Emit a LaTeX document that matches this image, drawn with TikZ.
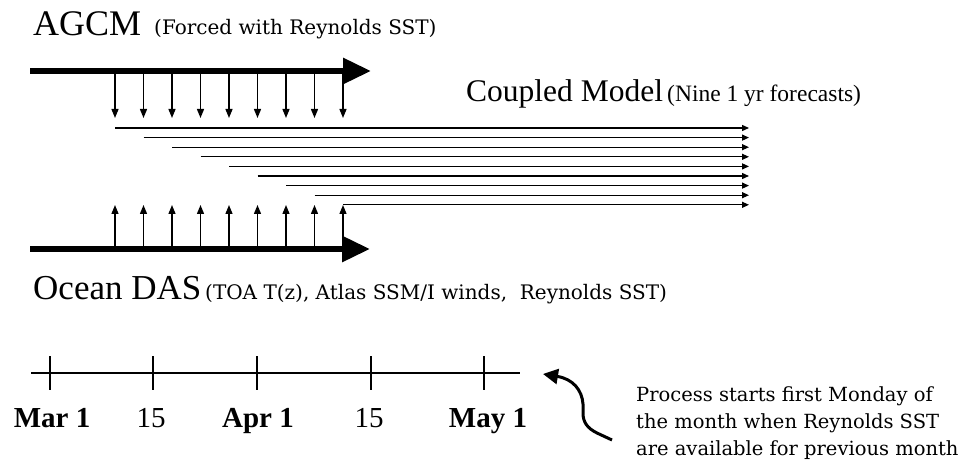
\documentclass[tikz,border=0pt]{standalone}
\usepackage{fontspec}
\setmainfont{Liberation Serif}
\newfontfamily\widefont{DejaVu Serif}
\usetikzlibrary{arrows.meta}
\begin{document}
\begin{tikzpicture}[x=1pt,y=-1pt,
  bigarrow/.style={line width=6pt,-{Triangle[length=28pt,width=25pt]}},
  thinarrow/.style={line width=1.3pt,-{Triangle[length=9pt,width=7pt]}},
  fcline/.style={line width=1.3pt,-{Triangle[length=7pt,width=6pt]}},
  tickline/.style={line width=1.2pt},
  curvearrow/.style={line width=3pt,-{Triangle[length=15pt,width=15pt]}},
  bigtext/.style={inner sep=0pt,anchor=base west},
  paren/.style={inner sep=0pt,anchor=base west,font=\widefont\fontsize{20}{22}\selectfont},
  datelbl/.style={inner sep=0pt,anchor=base,font=\fontsize{29}{32}\selectfont},
  notetext/.style={inner sep=0pt,anchor=base west,font=\widefont\fontsize{19.5}{24}\selectfont}
]
\useasboundingbox (0,0) rectangle (969,465);
\fill[white] (0,0) rectangle (969,465);

% titles
\node[bigtext,font=\fontsize{36}{40}\selectfont] (agcm) at (33,36) {AGCM};
\node[paren] (agcmp) at (154,35) {(Forced with Reynolds SST)};
\node[bigtext,font=\fontsize{31.5}{36}\selectfont] (cpl) at (466,102) {Coupled Model};
\node[bigtext,font=\fontsize{23.5}{26}\selectfont] (cplp) at (667,102) {(Nine 1 yr forecasts)};
\node[bigtext,font=\fontsize{35}{40}\selectfont] (odas) at (33,299) {Ocean DAS};
\node[paren] (odasp) at (205,299) {(TOA T(z), Atlas SSM/I winds, \ Reynolds SST)};

% thick arrows
\coordinate (ts) at (30,71);
\coordinate (te) at (371,71);
\coordinate (bs) at (30,249);
\coordinate (be) at (370,249);
\draw[bigarrow] (ts) -- (te);
\draw[bigarrow] (bs) -- (be);

% thin arrows and forecast lines
\foreach \i in {0,...,8}{
  \pgfmathsetmacro\xx{115+28.5*\i}
  \pgfmathsetmacro\yy{128+9.6*\i}
  \coordinate (dt\i) at (\xx,71);
  \coordinate (db\i) at (\xx,118);
  \coordinate (ub\i) at (\xx,249);
  \coordinate (ut\i) at (\xx,205);
  \coordinate (hs\i) at (\xx,\yy);
  \coordinate (he\i) at (749,\yy);
  \draw[thinarrow] (dt\i) -- (db\i);
  \draw[thinarrow] (ub\i) -- (ut\i);
  \draw[fcline] (hs\i) -- (he\i);
}

% timeline
\coordinate (ls) at (31,373);
\coordinate (le) at (520,373);
\draw[tickline] (ls) -- (le);
\foreach \x/\n in {50/t1,153/t2,257/t3,371/t4,484/t5}{
  \coordinate (\n a) at (\x,356);
  \coordinate (\n b) at (\x,390);
  \draw[tickline] (\n a) -- (\n b);
}
\node[datelbl,font=\bfseries\fontsize{29}{32}\selectfont] (d1) at (52,427) {Mar 1};
\node[datelbl] (d2) at (151,427) {15};
\node[datelbl,font=\bfseries\fontsize{29}{32}\selectfont] (d3) at (258,427) {Apr 1};
\node[datelbl] (d4) at (369,427) {15};
\node[datelbl,font=\bfseries\fontsize{29}{32}\selectfont] (d5) at (488,427) {May 1};

% curved arrow
\coordinate (cs) at (612,440);
\coordinate (ce) at (543,374);
\draw[curvearrow] (cs) -- (597,433) .. controls (587,428) and (583,422) .. (583,413) -- (583,404) .. controls (582,390) and (573,379) .. (ce);

% note
\node[notetext] (n1) at (636,401) {Process starts first Monday of};
\node[notetext] (n2) at (636,428) {the month when Reynolds SST};
\node[notetext] (n3) at (636,455) {are available for previous month};
\end{tikzpicture}
\end{document}
